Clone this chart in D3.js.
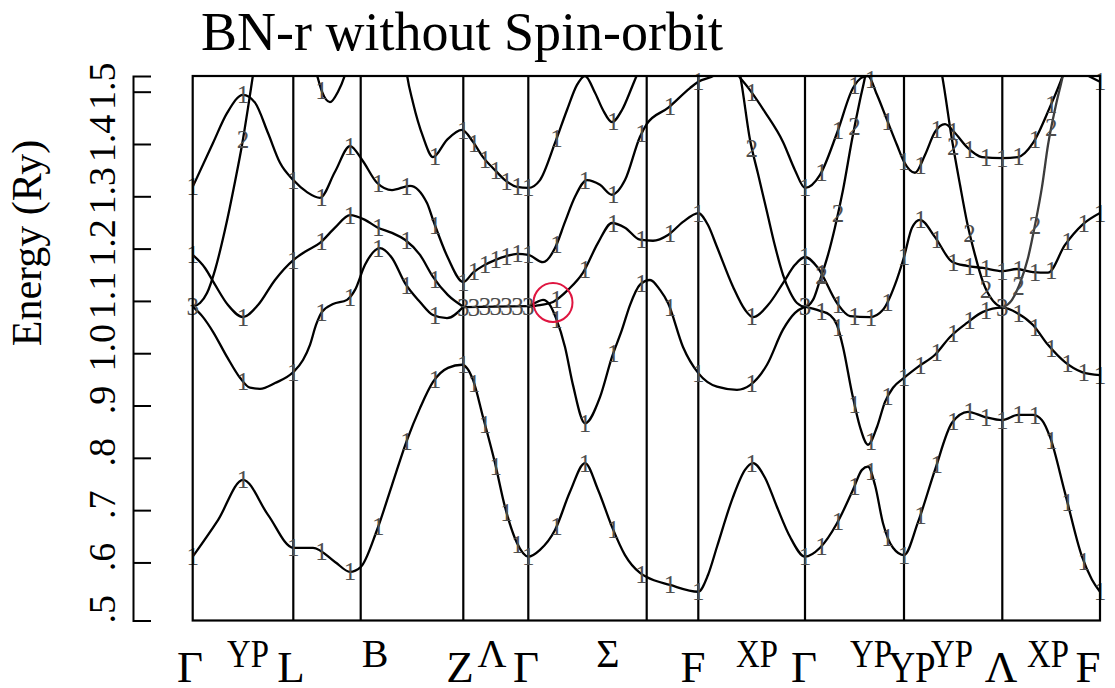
<!DOCTYPE html>
<html><head><meta charset="utf-8">
<script src="https://cdn.jsdelivr.net/npm/d3@7"></script>
<style>
body{margin:0;background:#fff;}
svg{display:block;}
text{font-family:"Liberation Serif","Times New Roman",serif;}
</style></head><body>
<svg id="chart" width="1115" height="688"></svg>
<script>
// ---------- data ----------
const title = "BN-r without Spin-orbit";
const yTitle = "Energy (Ry)";
const kSym = [0, 1.006, 1.680, 2.706, 3.356, 4.540, 5.056, 6.123, 7.113, 8.096, 9.073];
const xLabels = ["Γ","YP","L","B","Z","Λ","Γ","Σ","F","XP","Γ","YP","YP","YP","Λ","XP","F"];
const xLabelK = [-0.027,0.553,0.983,1.823,2.673,2.993,3.333,4.153,5.003,5.643,6.113,6.783,7.193,7.593,8.083,8.553,8.953];
const yTickValues = [0.5,0.6,0.7,0.8,0.9,1.0,1.1,1.2,1.3,1.4,1.5];
const yTickLabels = [".5",".6",".7",".8",".9","1.0","1.1","1.2","1.3","1.4","1.5"];
const labelK = [0,0.503,1.006,1.289,1.573,1.856,2.139,2.423,2.706,2.814,2.923,3.031,3.139,3.248,3.356,3.639,3.923,4.206,4.489,4.773,5.056,5.590,6.123,6.288,6.453,6.618,6.783,6.948,7.113,7.277,7.441,7.605,7.768,7.932,8.096,8.259,8.422,8.585,8.747,8.910,9.073];

const band1 = [[0,0.611],[0.253,0.681],[0.503,0.758],[0.753,0.691],[1.006,0.628],[1.203,0.628],[1.423,0.601],[1.573,0.582],[1.680,0.591],[1.843,0.662],[1.993,0.748],[2.143,0.834],[2.273,0.895],[2.403,0.945],[2.553,0.972],[2.693,0.978],[2.803,0.949],[2.903,0.878],[3.023,0.790],[3.123,0.706],[3.243,0.637],[3.356,0.611],[3.473,0.624],[3.623,0.662],[3.773,0.735],[3.923,0.790],[4.053,0.739],[4.193,0.668],[4.323,0.614],[4.473,0.580],[4.540,0.572],[4.773,0.557],[5.056,0.544],[5.153,0.576],[5.243,0.630],[5.403,0.725],[5.523,0.777],[5.603,0.790],[5.723,0.762],[5.843,0.706],[5.973,0.649],[6.123,0.611],[6.273,0.628],[6.443,0.675],[6.603,0.739],[6.693,0.777],[6.753,0.783],[6.823,0.748],[6.903,0.675],[7.003,0.628],[7.113,0.614],[7.253,0.677],[7.423,0.777],[7.593,0.867],[7.753,0.888],[7.923,0.878],[8.096,0.872],[8.253,0.882],[8.403,0.882],[8.493,0.872],[8.573,0.840],[8.723,0.733],[8.893,0.611],[8.993,0.567],[9.073,0.544]];
const bandA = [[0,1.318],[0.203,1.402],[0.343,1.459],[0.503,1.494],[0.623,1.479],[0.753,1.421],[0.873,1.364],[1.006,1.331],[1.143,1.308],[1.273,1.297],[1.423,1.347],[1.573,1.396],[1.693,1.370],[1.843,1.326],[1.993,1.312],[2.173,1.320],[2.343,1.287],[2.403,1.255],[2.553,1.182],[2.706,1.136],[2.803,1.154],[2.903,1.167],[3.023,1.178],[3.143,1.186],[3.243,1.190],[3.356,1.188],[3.503,1.174],[3.623,1.201],[3.723,1.251],[3.823,1.299],[3.943,1.331],[4.073,1.322],[4.193,1.303],[4.323,1.331],[4.473,1.414],[4.540,1.438],[4.753,1.469],[4.973,1.507],[5.056,1.519],[5.223,1.532],[5.373,1.560]];
const bandB = [[0,1.188],[0.123,1.163],[0.223,1.131],[0.353,1.092],[0.503,1.069],[0.653,1.092],[0.823,1.140],[1.006,1.178],[1.123,1.194],[1.273,1.211],[1.423,1.240],[1.573,1.264],[1.723,1.255],[1.843,1.241],[1.993,1.230],[2.123,1.217],[2.273,1.188],[2.403,1.146],[2.553,1.111],[2.706,1.089]];
const bandC = [[0,1.089],[0.073,1.096],[0.143,1.115],[0.223,1.159],[0.323,1.236],[0.423,1.328],[0.493,1.398],[0.553,1.469],[0.603,1.532],[0.633,1.570]];
const bandD = [[0,1.089],[0.103,1.069],[0.203,1.041],[0.343,0.993],[0.473,0.953],[0.573,0.934],[0.673,0.932],[0.823,0.943],[1.006,0.964],[1.103,0.987],[1.173,1.016],[1.233,1.054],[1.293,1.079],[1.403,1.094],[1.543,1.102],[1.623,1.121],[1.723,1.169],[1.873,1.201],[1.993,1.182],[2.123,1.134],[2.273,1.098],[2.403,1.073],[2.543,1.067],[2.706,1.089]];
const bandL3 = [[2.706,1.088],[3.031,1.089],[3.356,1.090]];
const bandE = [[1.203,1.561],[1.243,1.532],[1.293,1.500],[1.373,1.480],[1.453,1.500],[1.523,1.532],[1.553,1.551]];
const bandF = [[2.123,1.560],[2.143,1.532],[2.203,1.479],[2.303,1.414],[2.403,1.375],[2.543,1.408],[2.693,1.427],[2.803,1.404],[2.903,1.375],[3.023,1.350],[3.123,1.331],[3.243,1.318],[3.356,1.316],[3.473,1.331],[3.623,1.402],[3.743,1.465],[3.843,1.513],[3.923,1.530],[4.023,1.498],[4.103,1.465],[4.193,1.442],[4.293,1.465],[4.393,1.509],[4.443,1.532],[4.473,1.545]];
const bandR = [[3.356,1.089],[3.473,1.092],[3.603,1.098],[3.753,1.121],[3.903,1.154],[4.053,1.211],[4.193,1.249],[4.323,1.240],[4.473,1.217],[4.603,1.215],[4.753,1.226],[4.903,1.251],[5.056,1.268],[5.153,1.245],[5.243,1.203],[5.403,1.127],[5.523,1.083],[5.603,1.069],[5.753,1.092],[5.903,1.134],[6.023,1.169],[6.123,1.184],[6.253,1.163],[6.443,1.096],[6.573,1.071],[6.773,1.069],[6.903,1.083],[7.023,1.131],[7.113,1.184],[7.193,1.240],[7.273,1.255],[7.423,1.222],[7.593,1.175],[7.743,1.167],[7.903,1.163],[8.096,1.157],[8.243,1.161],[8.403,1.155],[8.553,1.154],[8.723,1.207],[8.893,1.245],[9.073,1.268]];
const bandS = [[3.356,1.089],[3.443,1.098],[3.503,1.102],[3.573,1.092],[3.633,1.067],[3.723,1.012],[3.803,0.939],[3.923,0.866],[4.073,0.916],[4.193,0.993],[4.293,1.045],[4.373,1.092],[4.473,1.131],[4.573,1.140],[4.673,1.121],[4.753,1.096],[4.903,1.012],[5.056,0.962],[5.243,0.936],[5.443,0.930],[5.573,0.939],[5.743,0.978],[5.903,1.045],[6.023,1.077],[6.123,1.089]];
const bandT = [[6.123,1.089],[6.273,1.081],[6.373,1.073],[6.443,1.054],[6.503,1.012],[6.593,0.924],[6.673,0.859],[6.753,0.825],[6.843,0.859],[6.923,0.907],[7.003,0.934],[7.113,0.953],[7.253,0.974],[7.423,0.997],[7.573,1.031],[7.743,1.058],[7.903,1.079],[8.096,1.087],[8.243,1.077],[8.403,1.054],[8.553,1.016],[8.723,0.983],[8.893,0.964],[9.073,0.958]];
const bandQ = [[5.423,1.570],[5.473,1.532],[5.573,1.408],[5.653,1.343],[5.743,1.270],[5.823,1.205],[5.903,1.150],[5.973,1.117],[6.043,1.096],[6.123,1.089],[6.203,1.102],[6.273,1.140],[6.353,1.188],[6.423,1.241],[6.503,1.312],[6.593,1.408],[6.673,1.484],[6.723,1.528],[6.753,1.561]];
const bandG = [[5.353,1.560],[5.453,1.532],[5.573,1.503],[5.723,1.461],[5.903,1.404],[6.023,1.350],[6.123,1.316],[6.273,1.341],[6.443,1.421],[6.603,1.507],[6.703,1.528],[6.753,1.530],[6.843,1.494],[6.943,1.446],[7.043,1.398],[7.113,1.366],[7.223,1.345],[7.323,1.379],[7.423,1.423],[7.523,1.438],[7.623,1.421],[7.743,1.394],[7.893,1.375],[8.096,1.373],[8.253,1.375],[8.403,1.402],[8.573,1.471],[8.703,1.532],[8.753,1.561]];
const bandP1 = [[7.453,1.570],[7.493,1.532],[7.593,1.408],[7.673,1.322],[7.743,1.251],[7.823,1.188],[7.903,1.136],[8.003,1.100],[8.096,1.087]];
const bandP2 = [[8.096,1.087],[8.193,1.102],[8.273,1.134],[8.353,1.182],[8.423,1.245],[8.493,1.318],[8.553,1.398],[8.633,1.475],[8.703,1.532],[8.733,1.561]];
const bandH = [[8.843,1.545],[8.943,1.532],[9.073,1.519]];

// label digits at the sample points (index into labelK), "." = none
const lab1 = "1".repeat(41);
const labA = "1".repeat(21) + ".".repeat(20);
const labB = "1".repeat(8) + ".".repeat(33);
const labC = ".2" + ".".repeat(39);
const labD = "3" + "1".repeat(7) + ".".repeat(33);
const labL3 = ".".repeat(8) + "3".repeat(7) + ".".repeat(26);
const labE = "...1" + ".".repeat(37);
const labF = ".".repeat(7) + "1".repeat(9) + ".1" + ".".repeat(23);
const labR = ".".repeat(15) + "1".repeat(26);
const labS = ".".repeat(15) + "1".repeat(7) + "3" + ".".repeat(18);
const labT = ".".repeat(23) + "1".repeat(11) + "3" + "1".repeat(6);
const labQ = ".".repeat(21) + "2.222" + ".".repeat(15);
const labG = ".".repeat(21) + "1".repeat(17) + "...";
const labP1 = ".".repeat(31) + "222" + ".".repeat(7);
const labP2 = ".".repeat(35) + "222" + "...";
const labH = ".".repeat(40) + "1";

const bands = [
  {pts: band1, lab: lab1}, {pts: bandA, lab: labA}, {pts: bandB, lab: labB},
  {pts: bandC, lab: labC}, {pts: bandD, lab: labD}, {pts: bandL3, lab: labL3},
  {pts: bandE, lab: labE}, {pts: bandF, lab: labF}, {pts: bandR, lab: labR},
  {pts: bandS, lab: labS}, {pts: bandT, lab: labT}, {pts: bandQ, lab: labQ},
  {pts: bandG, lab: labG}, {pts: bandP1, lab: labP1}, {pts: bandP2, lab: labP2, color: "#3c3c3c"},
  {pts: bandH, lab: labH}
];
const marker = {k: 3.603, e: 1.097};

// ---------- drawing ----------
const svg = d3.select("#chart");
const x = d3.scaleLinear().domain([0, 9.073]).range([192.7, 1100]);
const y = d3.scaleLinear().domain([0.489, 1.530]).range([620.5, 76]);
const [x0, x1] = x.range(); const [yb, yt] = y.range();

svg.append("defs").append("clipPath").attr("id","clip")
  .append("rect").attr("x", x0).attr("y", yt).attr("width", x1 - x0).attr("height", yb - yt);

// title
svg.append("text").attr("x", 462).attr("y", 50).attr("text-anchor","middle")
  .attr("font-size", 54).text(title);
// y title
svg.append("text").attr("transform","translate(41,243) rotate(-90)").attr("text-anchor","middle")
  .attr("font-size", 42).text(yTitle);

// y axis
const yAxis = d3.axisLeft(y).tickValues(yTickValues).tickSizeInner(-18).tickSizeOuter(-18)
  .tickFormat((d, i) => yTickLabels[i]);
const gy = svg.append("g").attr("transform","translate(133,0)").call(yAxis);
gy.select(".domain").attr("stroke","#000").attr("stroke-width",2);
gy.selectAll(".tick line").attr("stroke","#000").attr("stroke-width",2)
  .attr("display", d => d === 0.5 ? "none" : null);
gy.selectAll(".tick text").attr("x", 0).attr("dy", 0)
  .attr("transform","translate(-18,-6) rotate(-90)").attr("text-anchor","middle")
  .attr("fill","#000").attr("font-size", 38).attr("font-family", '"Liberation Serif",serif');

// x labels (alternating low / raised rows)
svg.append("g").selectAll("text").data(xLabels).join("text")
  .attr("transform", (d, i) => `translate(${x(xLabelK[i])},${i % 2 === 0 ? 682 : 667}) scale(${d.length > 1 ? 0.82 : 1},1)`)
  .attr("text-anchor","middle").attr("font-size", (d, i) => i % 2 === 0 ? 45 : 40).text(d => d);

// symmetry lines
svg.append("g").selectAll("line").data(kSym.slice(1, -1)).join("line")
  .attr("x1", d => x(d)).attr("x2", d => x(d)).attr("y1", yt).attr("y2", yb)
  .attr("stroke","#000").attr("stroke-width",2.2);

// bands
const line = d3.line().x(d => x(d[0])).y(d => y(d[1])).curve(d3.curveMonotoneX);
const gb = svg.append("g").attr("clip-path","url(#clip)");
const gl = svg.append("g");
function yAt(node, px) {
  let lo = 0, hi = node.getTotalLength();
  for (let i = 0; i < 40; i++) {
    const mid = (lo + hi) / 2;
    if (node.getPointAtLength(mid).x < px) lo = mid; else hi = mid;
  }
  return node.getPointAtLength((lo + hi) / 2).y;
}
bands.forEach(b => {
  const p = gb.append("path").attr("d", line(b.pts)).attr("fill","none")
    .attr("stroke", b.color || "#000").attr("stroke-width", 2.3);
  const node = p.node();
  const kmin = b.pts[0][0], kmax = b.pts[b.pts.length - 1][0];
  for (let i = 0; i < labelK.length; i++) {
    const c = b.lab[i];
    if (!c || c === ".") continue;
    const k = labelK[i];
    if (k < kmin - 1e-6 || k > kmax + 1e-6) continue;
    const px = x(k);
    const py = yAt(node, px);
    if (py < yt - 4) continue;
    gl.append("text").attr("x", px).attr("y", py).attr("dy","0.34em")
      .attr("text-anchor","middle").attr("font-size", 25).attr("fill","#4d4d4d").text(c);
  }
});

// frame
svg.append("rect").attr("x", x0).attr("y", yt).attr("width", x1 - x0).attr("height", yb - yt)
  .attr("fill","none").attr("stroke","#000").attr("stroke-width",2.2);

// marker circle
svg.append("circle").attr("cx", x(marker.k)).attr("cy", y(marker.e)).attr("r", 19.5)
  .attr("fill","none").attr("stroke","#df1540").attr("stroke-width",2);
</script>
</body></html>
